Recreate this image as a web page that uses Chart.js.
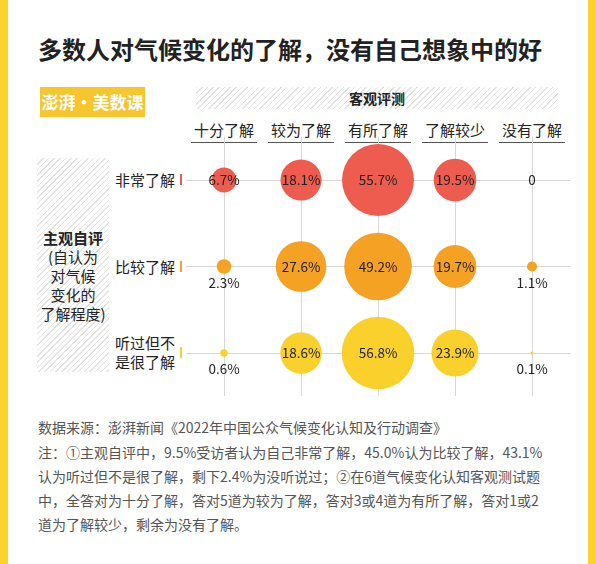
<!DOCTYPE html>
<html><head><meta charset="utf-8">
<script src="https://cdn.jsdelivr.net/npm/chart.js@4"></script>
<style>
body{margin:0;width:596px;height:564px;position:relative;background:#fff;font-family:"Noto Sans CJK SC","Noto Sans",sans-serif;overflow:hidden;color:#222}
.a{position:absolute;white-space:nowrap}
.hatch{background:repeating-linear-gradient(135deg,#e4e4e4 0 1px,#fff 1px 4px)}
#c{position:absolute;left:0;top:0}
.hd{font-size:15px;text-align:center;width:76px;top:119px}
.hd span{border-bottom:1px solid #555;padding:0 3px 2px}
.rl{font-size:15px;text-align:right;line-height:19px;right:421px}
.tk{position:absolute;width:2px;height:11px}
.ft{font-size:14px;color:#555;left:38px;line-height:24px}
</style></head><body>
<div class="a" style="left:0;top:0;width:8px;height:564px;background:#fbd22e"></div>
<div class="a" style="right:0;top:0;width:8px;height:564px;background:#fbd22e"></div>
<div class="a" style="left:38px;top:31px;font-size:24px;font-weight:bold">多数人对气候变化的了解，没有自己想象中的好</div>
<div class="a" style="left:40px;top:87px;width:105px;height:30px;background:#f7c52c;color:#fff;font-size:17px;line-height:30px;text-align:center;font-weight:bold">澎湃·美数课</div>
<div class="a hatch" style="left:196px;top:87px;width:362px;height:22px;text-align:center;font-size:14px;font-weight:bold;line-height:22px">客观评测</div>
<div class="a hatch" style="left:37px;top:158px;width:72px;height:214px"></div>
<div class="a" style="left:37px;top:228px;width:72px;text-align:center;font-size:15px;line-height:19px"><b>主观自评</b><br>(自认为<br>对气候<br>变化的<br>了解程度)</div>
<div id="hds"></div>
<canvas id="c" width="596" height="410"></canvas>
<div class="a ft" style="top:415px">数据来源：澎湃新闻《2022年中国公众气候变化认知及行动调查》</div>
<div class="a ft" style="top:440px">注：①主观自评中，9.5%受访者认为自己非常了解，45.0%认为比较了解，43.1%<br>认为听过但不是很了解，剩下2.4%为没听说过；②在6道气候变化认知客观测试题<br>中，全答对为十分了解，答对5道为较为了解，答对3或4道为有所了解，答对1或2<br>道为了解较少，剩余为没有了解。</div>
<script>
const columns = ["十分了解", "较为了解", "有所了解", "了解较少", "没有了解"];
const rows = ["非常了解", "比较了解", "听过但不\n是很了解"];
const rowColors = ["#ee5b4f", "#f5a123", "#fad12c"];
const veryWell = [6.7, 18.1, 55.7, 19.5, 0];
const fairlyWell = [2.3, 27.6, 49.2, 19.7, 1.1];
const heardOf = [0.6, 18.6, 56.8, 23.9, 0.1];
const series = [veryWell, fairlyWell, heardOf];

const hds = document.getElementById('hds');
columns.forEach((c, i) => {
  hds.innerHTML += `<div class="a hd" style="left:${224 + i * 77 - 38}px"><span>${c}</span></div>`;
});
const rowY = [180, 267, 353];
rows.forEach((r, i) => {
  const lines = r.split('\n');
  hds.innerHTML += `<div class="a rl" style="top:${rowY[i] - lines.length * 9.5 - 1}px">${lines.join('<br>')}</div>`;
  hds.innerHTML += `<div class="tk" style="left:180px;top:${rowY[i] - 6}px;background:${rowColors[i]}"></div>`;
});

const rad = v => 4.82 * Math.sqrt(v);
const datasets = series.map((s, r) => ({
  data: s.map((v, c) => ({ x: c, y: r, r: rad(v), v })),
  backgroundColor: rowColors[r],
  borderWidth: 0
}));

const labels = {
  id: 'labels',
  afterDatasetsDraw(chart) {
    const ctx = chart.ctx;
    ctx.save();
    ctx.font = '13.5px "Noto Sans CJK SC", sans-serif';
    ctx.textAlign = 'center';
    ctx.textBaseline = 'middle';
    ctx.fillStyle = '#222';
    chart.data.datasets.forEach((ds, di) => {
      chart.getDatasetMeta(di).data.forEach((el, i) => {
        const v = ds.data[i].v;
        const txt = v === 0 ? '0' : v + '%';
        const y = v > 0 && v < 5 ? el.y + 16 : el.y;
        ctx.fillText(txt, el.x, y);
      });
    });
    ctx.restore();
  }
};

new Chart(document.getElementById('c'), {
  type: 'bubble',
  data: { datasets },
  options: {
    responsive: false,
    animation: false,
    layout: { autoPadding: false, padding: { left: 185.5, right: 25.5, top: 136.75, bottom: 13.75 } },
    plugins: { legend: { display: false }, tooltip: { enabled: false } },
    scales: {
      x: {
        min: -0.5, max: 4.5,
        afterBuildTicks: a => { a.ticks = columns.map((_, i) => ({ value: i })); },
        ticks: { display: false },
        border: { display: false },
        grid: { color: '#d8d8d8', borderDash: [2, 2], drawTicks: false }
      },
      y: {
        min: -0.5, max: 2.5, reverse: true,
        afterBuildTicks: a => { a.ticks = rows.map((_, i) => ({ value: i })); },
        ticks: { display: false },
        border: { display: false },
        grid: { color: '#d8d8d8', borderDash: [2, 2], drawTicks: false }
      }
    }
  },
  plugins: [labels]
});
</script>
</body></html>
